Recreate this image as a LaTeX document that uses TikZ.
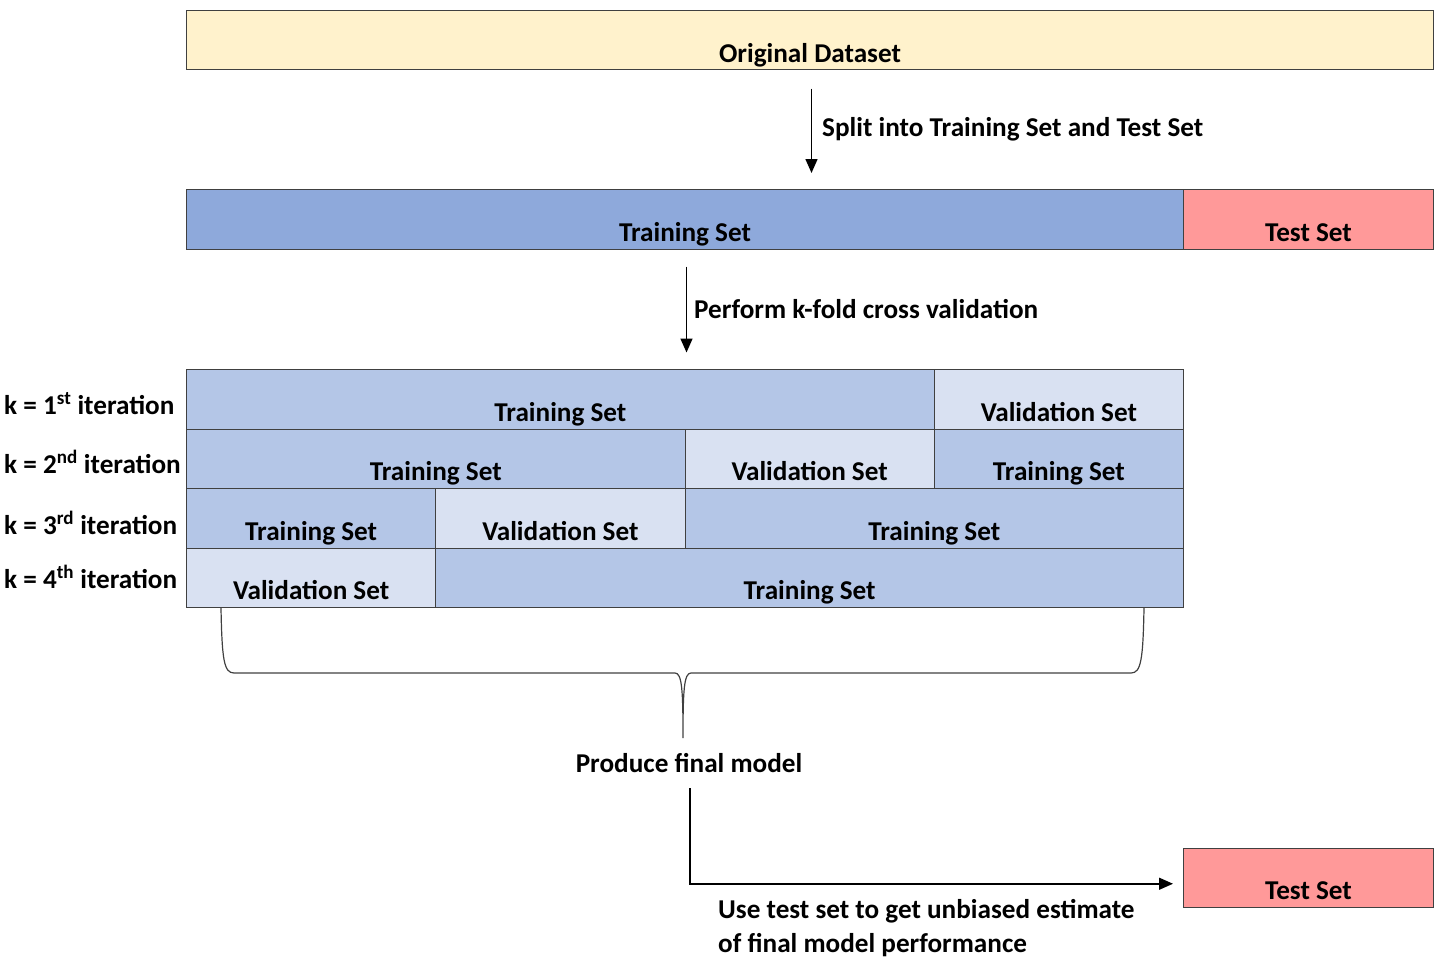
\documentclass[tikz,border=0pt]{standalone}
\usepackage{fontspec}
\setmainfont{Carlito}
\usetikzlibrary{arrows.meta}

\definecolor{dataYellow}{HTML}{FFF2CC}
\definecolor{trainBlue}{HTML}{8EA9DB}
\definecolor{testRed}{HTML}{FF9999}
\definecolor{foldTrain}{HTML}{B4C6E7}
\definecolor{foldValid}{HTML}{D9E1F2}
\definecolor{edgeGray}{HTML}{404040}

\begin{document}
\begin{tikzpicture}[x=1pt,y=-1pt,
		every node/.style={font=\bfseries\fontsize{27.2}{34}\selectfont, inner sep=0pt},
		setbox/.style={draw=edgeGray, line width=1pt, anchor=north west, minimum height=59.5pt, text height=44pt, text depth=0pt},
		train/.style={setbox, fill=foldTrain},
		valid/.style={setbox, fill=foldValid},
		flow/.style={line width=1.5pt, -{Triangle[length=14pt,width=12pt]}}
	]
	\useasboundingbox (0,0) rectangle (1440,966);
	
	% Original Dataset
	\node[setbox, fill=dataYellow, minimum width=1247pt] (orig) at (186,10) {Original Dataset};
	
	% Split
	\node[setbox, fill=trainBlue, minimum width=997pt] (train) at (186,189) {Training Set};
	\node[setbox, fill=testRed, minimum width=250pt] (test) at (1183,189) {Test Set};
	\draw[flow] ([xshift=1.5pt,yshift=-18pt]orig.south) -- ([xshift=1.5pt,yshift=16pt]orig.south |- train.north);
	\node[anchor=base west] (splitlbl) at (822,136) {Split into Training Set and Test Set};
	
	% k-fold arrow
	\draw[flow] ([xshift=1.5pt,yshift=-17pt]train.south) -- ([xshift=1.5pt,yshift=-103pt]train.south);
	\node[anchor=base west] (kfoldlbl) at (694,318) {Perform k-fold cross validation};
	
	% k = 1
	\node[train, minimum width=747.75pt] (r1a) at (186,369) {Training Set};
	\node[valid, minimum width=249.25pt] (r1b) at (933.75,369) {Validation Set};
	
	% k = 2
	\node[train, minimum width=498.5pt] (r2a) at (186,428.5) {Training Set};
	\node[valid, minimum width=249.25pt] (r2b) at (684.5,428.5) {Validation Set};
	\node[train, minimum width=249.25pt] (r2c) at (933.75,428.5) {Training Set};
	
	% k = 3
	\node[train, minimum width=249.25pt] (r3a) at (186,488) {Training Set};
	\node[valid, minimum width=249.25pt] (r3b) at (435.25,488) {Validation Set};
	\node[train, minimum width=498.5pt] (r3c) at (684.5,488) {Training Set};
	
	% k = 4
	\node[valid, minimum width=249.25pt] (r4a) at (186,547.5) {Validation Set};
	\node[train, minimum width=747.75pt] (r4b) at (435.25,547.5) {Training Set};
	
	% Iteration labels
	\node[anchor=base west] (it1) at (4,414) {k = 1\textsuperscript{st} iteration};
	\node[anchor=base west] (it2) at (4,473) {k = 2\textsuperscript{nd} iteration};
	\node[anchor=base west] (it3) at (4,534) {k = 3\textsuperscript{rd} iteration};
	\node[anchor=base west] (it4) at (4,588) {k = 4\textsuperscript{th} iteration};
	
	% Brace
	\coordinate (tip) at (683,738);
	\draw[edgeGray, line width=1.2pt] (221,608) .. controls (222,660) and (224,673) .. (234,673) -- (675,673)
		.. controls (682,673) and (683,690) .. (tip)
		.. controls (683,690) and (684,673) .. (691,673) -- (1131,673)
		.. controls (1141,673) and (1143,660) .. (1144,608);
	
	% Final model
	\node[anchor=base] (final) at (689,772) {Produce final model};
	\node[setbox, fill=testRed, minimum width=250pt] (test2) at (1183,847.5) {Test Set};
	\draw[flow] ([xshift=1pt,yshift=-16pt]final.south) |- ([xshift=-10pt,yshift=-6pt]test2.west);
	\node[anchor=north west, align=left] (estlbl) at (718,899) {Use test set to get unbiased estimate\\of final model performance};
	
\end{tikzpicture}
\end{document}
